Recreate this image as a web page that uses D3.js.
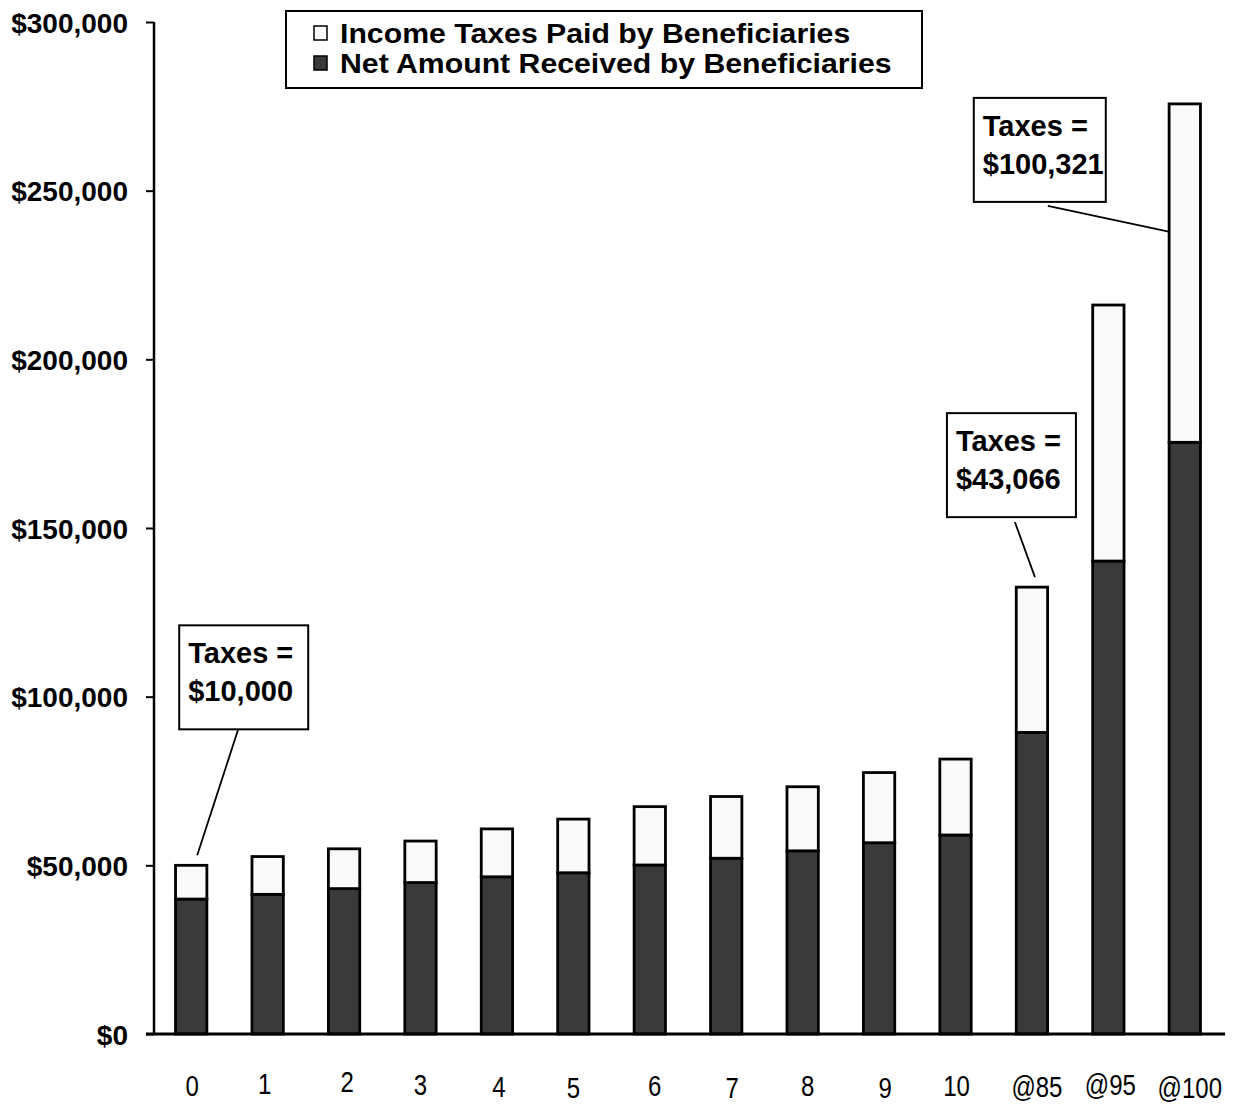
<!DOCTYPE html>
<html>
<head>
<meta charset="utf-8">
<script src="https://cdn.jsdelivr.net/npm/d3@7"></script>
<style>
  html, body { margin: 0; padding: 0; background: #ffffff; }
  svg { display: block; }
  text { font-family: "Liberation Sans", Arial, sans-serif; fill: #000; }
</style>
</head>
<body>
<script>
// Payout categories along the x axis
const categories = ["0", "1", "2", "3", "4", "5", "6", "7", "8", "9", "10", "@85", "@95", "@100"];
// Net amount received by beneficiaries (dark segment)
const netReceived = [40000, 41400, 43100, 44900, 46600, 47800, 50100, 52100, 54300, 56700, 59000, 89400, 140200, 175400];
// Income taxes paid by beneficiaries (light segment, stacked on top)
const incomeTaxes = [10000, 11200, 11800, 12300, 14200, 15900, 17300, 18300, 19000, 20800, 22500, 43066, 75900, 100321];
// Y axis ticks
const yTicks = [0, 50000, 100000, 150000, 200000, 250000, 300000];
// Legend entries
const legendLabels = ["Income Taxes Paid by Beneficiaries", "Net Amount Received by Beneficiaries"];
// Categories carrying a callout of their tax amount
const calloutCategories = ["0", "@85", "@100"];

// ---- layout ----
const W = 1251, H = 1105;
const colors = { taxes: "#f9f9f9", net: "#3a3a3a" };
// small per-label nudges of the category labels (dx, baseline y)
const tickLabelNudge = [[1,1096],[-3,1094],[3,1092],[0,1095],[2,1097],[0,1098],[5,1096],[6,1098],[5,1096],[6,1098],[1,1096],[5,1097],[2,1095],[5,1098]];
// callout box placement relative to the bar centre / bar top
const calloutLayout = {
  "0":    { dx: -12,  dy: -240, w: 129, h: 104, lineFrom: [59, 0],  lineTo: [6, -10] },
  "@85":  { dx: -85,  dy: -174, w: 129, h: 104, lineFrom: [68, 5],  lineTo: [3, -10] },
  "@100": { dx: -211, dy: -6,   w: 132, h: 104, lineFrom: [74, 4],  lineTo: [-15, 128] }
};

const rows = categories.map((c, i) => ({ cat: c, net: netReceived[i], taxes: incomeTaxes[i], total: netReceived[i] + incomeTaxes[i] }));

const svg = d3.select("body").append("svg").attr("width", W).attr("height", H);

const x = d3.scaleBand().domain(categories).range([153, 1223]).paddingInner(0.59).paddingOuter(0.295);
const y = d3.scaleLinear().domain([0, 300000]).range([1034, 22]);

// ---- bars ----
const bars = svg.append("g");
bars.selectAll("rect.net").data(rows).join("rect")
  .attr("class", "net")
  .attr("x", d => x(d.cat)).attr("width", x.bandwidth())
  .attr("y", d => y(d.net)).attr("height", d => y(0) - y(d.net))
  .attr("fill", colors.net).attr("stroke", "#000").attr("stroke-width", 2.8);
bars.selectAll("rect.tax").data(rows).join("rect")
  .attr("class", "tax")
  .attr("x", d => x(d.cat)).attr("width", x.bandwidth())
  .attr("y", d => y(d.total)).attr("height", d => y(d.net) - y(d.total))
  .attr("fill", colors.taxes).attr("stroke", "#000").attr("stroke-width", 2.8);

// ---- y axis ----
const yAxis = svg.append("g").attr("transform", "translate(154,0)")
  .call(d3.axisLeft(y).tickValues(yTicks).tickSize(8).tickPadding(18).tickFormat(d3.format("$,")));
yAxis.select(".domain").attr("stroke-width", 2.5).attr("d", `M0,${y(300000)}V${y(0)}`);
yAxis.selectAll(".tick line").attr("stroke-width", 2);
yAxis.selectAll(".tick text")
  .attr("font-family", "'Liberation Sans', Arial, sans-serif")
  .attr("font-size", 28).attr("font-weight", "bold").attr("dy", "0.36em");

// ---- x axis baseline ----
svg.append("line").attr("x1", 146).attr("x2", 1225).attr("y1", y(0)).attr("y2", y(0))
  .attr("stroke", "#000").attr("stroke-width", 3);

// category labels (narrow, tall lettering)
svg.append("g").selectAll("text").data(categories).join("text")
  .attr("transform", (d, i) => `translate(${x(d) + x.bandwidth() / 2 + tickLabelNudge[i][0]},${tickLabelNudge[i][1]}) scale(0.8,1)`)
  .attr("text-anchor", "middle")
  .attr("font-size", 30)
  .text(d => d);

// ---- legend ----
const legend = svg.append("g");
legend.append("rect").attr("x", 286).attr("y", 11).attr("width", 636).attr("height", 77)
  .attr("fill", "#fff").attr("stroke", "#000").attr("stroke-width", 2);
const legendFills = [colors.taxes, colors.net];
legendLabels.forEach((lab, i) => {
  legend.append("rect").attr("x", 314).attr("y", 26 + i * 30).attr("width", 13).attr("height", 14)
    .attr("fill", legendFills[i]).attr("stroke", "#000").attr("stroke-width", 1.5);
  // wide lettering: horizontally stretched so two rows fit the box
  legend.append("text")
    .attr("transform", `translate(340,${43 + i * 30}) scale(1.12,1)`)
    .attr("font-size", 27).attr("font-weight", "bold").text(lab);
});

// ---- callouts ----
const fmt = d3.format("$,");
const callouts = svg.append("g");
calloutCategories.forEach(cat => {
  const d = rows.find(r => r.cat === cat);
  const L = calloutLayout[cat];
  const cx = x(cat) + x.bandwidth() / 2, cy = y(d.total);
  const bx = cx + L.dx, by = cy + L.dy;
  callouts.append("line")
    .attr("x1", bx + L.lineFrom[0]).attr("y1", by + L.h + L.lineFrom[1])
    .attr("x2", cx + L.lineTo[0]).attr("y2", cy + L.lineTo[1])
    .attr("stroke", "#000").attr("stroke-width", 1.8);
  callouts.append("rect").attr("x", bx).attr("y", by).attr("width", L.w).attr("height", L.h)
    .attr("fill", "#fff").attr("stroke", "#000").attr("stroke-width", 2);
  callouts.append("text").attr("x", bx + 9).attr("y", by + 38)
    .attr("font-size", 29).attr("font-weight", "bold").text("Taxes =");
  callouts.append("text").attr("x", bx + 9).attr("y", by + 76)
    .attr("font-size", 29).attr("font-weight", "bold").text(fmt(d.taxes));
});
</script>
</body>
</html>
